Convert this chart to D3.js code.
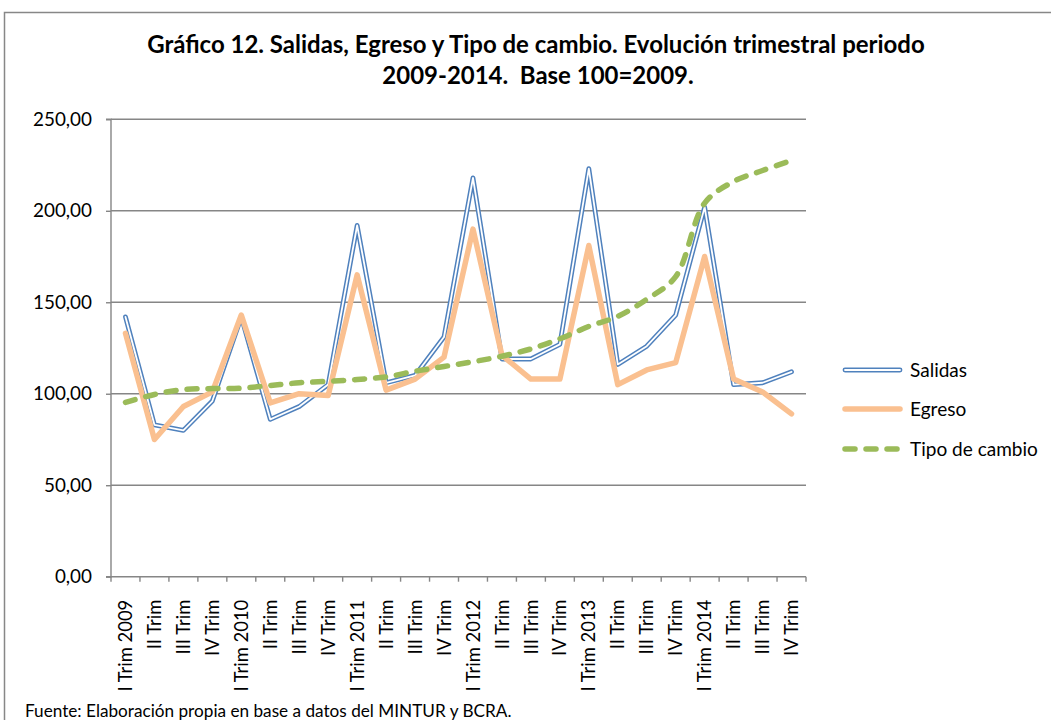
<!DOCTYPE html>
<html>
<head>
<meta charset="utf-8">
<script src="https://cdn.jsdelivr.net/npm/d3@7"></script>
<style>
  body { margin: 0; background: #fff; }
  text { font-family: Lato, "Open Sans", sans-serif; fill: #000; }
</style>
</head>
<body>
<div id="chart"></div>
<script>
// data
const categories = ["I Trim 2009", "II Trim", "III Trim", "IV Trim",
    "I Trim 2010", "II Trim ", "III Trim ", "IV Trim ",
    "I Trim 2011", "II Trim  ", "III Trim  ", "IV Trim  ",
    "I Trim 2012", "II Trim   ", "III Trim   ", "IV Trim   ",
    "I Trim 2013", "II Trim    ", "III Trim    ", "IV Trim    ",
    "I Trim 2014", "II Trim     ", "III Trim     ", "IV Trim     "];
const salidas = [142, 83, 80, 96, 142, 86, 93, 105, 192, 106, 110, 131,
    218, 119, 119, 127, 223, 116, 126, 143, 202, 105, 106, 112];
const egreso = [133, 75, 93, 101, 143, 95, 100, 99, 165, 102, 108, 120,
    190, 121, 108, 108, 181, 105, 113, 117, 175, 108, 101, 89];
const tipoCambio = [95.3, 99.6, 102.3, 102.8, 103, 104.5, 106, 106.8, 107.8, 109.2, 112.3, 114.9,
    117.5, 120.5, 124.5, 130, 136.8, 142.3, 151.6, 164, 204.2, 216, 222, 227.5];
const yTicks = [0, 50, 100, 150, 200, 250];
const seriesNames = ["Salidas", "Egreso", "Tipo de cambio"];
const titleLines = ["Gráfico 12. Salidas, Egreso y Tipo de cambio. Evolución trimestral periodo",
    "2009-2014.  Base 100=2009."];
const footerText = "Fuente: Elaboración propia en base a datos del MINTUR y BCRA.";

const width = 1051, height = 720;
const plot = { left: 111, right: 806, top: 119.3, bottom: 576.7 };
const gridColor = "#868686";

const svg = d3.select("#chart").append("svg")
    .attr("width", width)
    .attr("height", height);

// scale font-size so the text gets the target width
function fitWidth(sel, target, base) {
    sel.style("font-size", base + "px");
    const w = sel.node().getComputedTextLength();
    const size = base * target / w;
    sel.style("font-size", size + "px");
    return size;
}

// outer chart border
svg.append("rect")
    .attr("x", 4.5).attr("y", 12.5)
    .attr("width", 1200).attr("height", 900)
    .attr("fill", "none")
    .attr("stroke", "#878787")
    .attr("stroke-width", 1.5);

// title
const t1 = svg.append("text").attr("x", 536).attr("y", 53)
    .attr("text-anchor", "middle").style("font-weight", "bold").text(titleLines[0]);
fitWidth(t1, 778, 20);
const t2 = svg.append("text").attr("x", 538).attr("y", 84)
    .attr("text-anchor", "middle").style("font-weight", "bold")
    .style("white-space", "pre").text(titleLines[1]);
t2.style("font-size", t1.style("font-size"));

const xScale = d3.scaleBand().domain(categories).range([plot.left, plot.right]);
const yScale = d3.scaleLinear().domain([0, 250]).range([plot.bottom, plot.top]);
const xPos = i => xScale(categories[i]) + xScale.bandwidth() / 2;

// gridlines
svg.append("g").selectAll("line")
    .data(yTicks.filter(d => d > 0))
    .join("line")
    .attr("x1", plot.left).attr("x2", plot.right)
    .attr("y1", d => yScale(d)).attr("y2", d => yScale(d))
    .attr("stroke", gridColor).attr("stroke-width", 1.4);

// y axis
const yAxis = d3.axisLeft(yScale)
    .tickValues(yTicks)
    .tickSize(5)
    .tickPadding(14)
    .tickFormat(d => d3.format(".2f")(d).replace(".", ","));
const yAxisG = svg.append("g")
    .attr("transform", `translate(${plot.left},0)`)
    .call(yAxis);
yAxisG.selectAll("path, line").attr("stroke", gridColor).attr("stroke-width", 1.4);
yAxisG.select(".domain").attr("d", `M-5,${plot.top}H0V${plot.bottom}H-5`);
const ySize = fitWidth(yAxisG.select(".tick:last-of-type text"), 59, 18);
yAxisG.selectAll("text").style("font-size", ySize + "px").attr("fill", "#000")
    .style("font-family", "Lato, sans-serif");

// x axis: labels at category centres, ticks between categories
const xAxis = d3.axisBottom(xScale).tickSize(0).tickFormat(d => d.trim());
const xAxisG = svg.append("g")
    .attr("transform", `translate(0,${plot.bottom})`)
    .call(xAxis);
xAxisG.select(".domain").remove();
xAxisG.selectAll("text")
    .attr("transform", "rotate(-90)")
    .attr("x", -23).attr("y", 0).attr("dy", "0.36em")
    .style("text-anchor", "end")
    .style("font-family", "Lato, sans-serif")
    .attr("fill", "#000");
const xSize = fitWidth(xAxisG.select(".tick text"), 92, 18);
xAxisG.selectAll("text").style("font-size", xSize + "px");

const boundaries = categories.map(c => xScale(c)).concat([plot.right]);
svg.append("g").selectAll("line")
    .data(boundaries)
    .join("line")
    .attr("x1", d => d).attr("x2", d => d)
    .attr("y1", plot.bottom).attr("y2", plot.bottom + 5)
    .attr("stroke", gridColor).attr("stroke-width", 1.4);
svg.append("line")
    .attr("x1", plot.left).attr("x2", plot.right)
    .attr("y1", plot.bottom).attr("y2", plot.bottom)
    .attr("stroke", gridColor).attr("stroke-width", 1.4);

// lines
const straight = d3.line().x((d, i) => xPos(i)).y(d => yScale(d));
const smooth = d3.line().x((d, i) => xPos(i)).y(d => yScale(d)).curve(d3.curveCatmullRom);

const lines = svg.append("g");
// Salidas: double line (blue outline, white core)
lines.append("path").datum(salidas).attr("d", straight)
    .attr("fill", "none").attr("stroke", "#4F81BD").attr("stroke-width", 4.8)
    .attr("stroke-linejoin", "round").attr("stroke-linecap", "round");
lines.append("path").datum(salidas).attr("d", straight)
    .attr("fill", "none").attr("stroke", "#fff").attr("stroke-width", 1.8)
    .attr("stroke-linejoin", "round").attr("stroke-linecap", "round");
lines.append("path").datum(egreso).attr("d", straight)
    .attr("fill", "none").attr("stroke", "#FAC090").attr("stroke-width", 5.5)
    .attr("stroke-linejoin", "round").attr("stroke-linecap", "round");
lines.append("path").datum(tipoCambio).attr("d", smooth)
    .attr("fill", "none").attr("stroke", "#9BBB59").attr("stroke-width", 5.5)
    .attr("stroke-dasharray", "10,11")
    .attr("stroke-linecap", "round");

// legend
const legendY = [370, 409, 449];
const legend = svg.append("g");
legend.append("line").attr("x1", 845).attr("x2", 900).attr("y1", legendY[0]).attr("y2", legendY[0])
    .attr("stroke", "#4F81BD").attr("stroke-width", 4.8).attr("stroke-linecap", "round");
legend.append("line").attr("x1", 845).attr("x2", 900).attr("y1", legendY[0]).attr("y2", legendY[0])
    .attr("stroke", "#fff").attr("stroke-width", 1.8).attr("stroke-linecap", "round");
legend.append("line").attr("x1", 845).attr("x2", 900).attr("y1", legendY[1]).attr("y2", legendY[1])
    .attr("stroke", "#FAC090").attr("stroke-width", 5.5).attr("stroke-linecap", "round");
legend.append("line").attr("x1", 845).attr("x2", 900).attr("y1", legendY[2]).attr("y2", legendY[2])
    .attr("stroke", "#9BBB59").attr("stroke-width", 5.5)
    .attr("stroke-dasharray", "10,11").attr("stroke-linecap", "round");
const legendTexts = legend.selectAll("text")
    .data(seriesNames)
    .join("text")
    .attr("x", 910)
    .attr("y", (d, i) => legendY[i])
    .attr("dy", "0.35em")
    .text(d => d);
const lSize = fitWidth(legendTexts.filter((d, i) => i === 2), 128, 18);
legendTexts.style("font-size", lSize + "px");

// footer
const foot = svg.append("text").attr("x", 25).attr("y", 717).text(footerText);
fitWidth(foot, 487, 16);
</script>
</body>
</html>
